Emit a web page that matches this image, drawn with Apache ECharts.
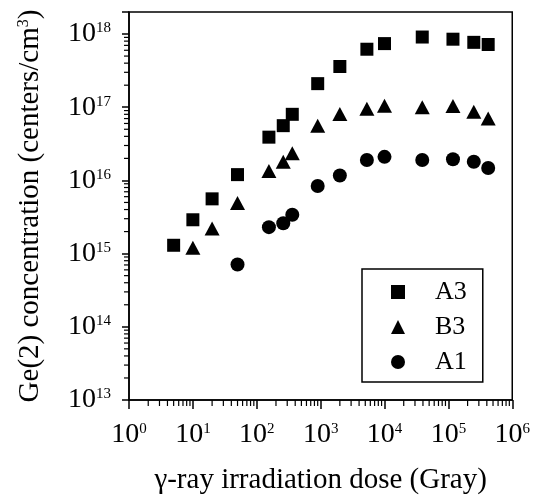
<!DOCTYPE html>
<html>
<head>
<meta charset="utf-8">
<script src="https://cdn.jsdelivr.net/npm/echarts@6/dist/echarts.min.js"></script>
<style>
  html, body { margin: 0; padding: 0; background: #fff; }
  #chart { width: 533px; height: 500px; }
</style>
</head>
<body>
<div id="chart"></div>
<script>
// gamma dose (Gray) for each sample
const doseA3 = [5, 10, 20, 50, 155, 260, 360, 900, 2000, 5300, 10000, 39000, 118000, 250000, 420000];
const valA3 = [1.3e15, 2.9e15, 5.6e15, 1.2e16, 3.9e16, 5.6e16, 8.0e16, 2.1e17, 3.6e17, 6.2e17, 7.4e17, 9.1e17, 8.5e17, 7.7e17, 7.2e17];

const doseB3 = [10, 20, 50, 155, 260, 360, 900, 2000, 5300, 10000, 39000, 118000, 250000, 420000];
const valB3 = [1.2e15, 2.2e15, 4.9e15, 1.35e16, 1.8e16, 2.35e16, 5.6e16, 8.1e16, 9.5e16, 1.05e17, 1.0e17, 1.04e17, 8.7e16, 7.0e16];

const doseA1 = [50, 155, 260, 360, 900, 2000, 5300, 10000, 39000, 118000, 250000, 420000];
const valA1 = [7.1e14, 2.3e15, 2.6e15, 3.4e15, 8.4e15, 1.17e16, 1.9e16, 2.1e16, 1.9e16, 1.95e16, 1.8e16, 1.48e16];

const seriesNames = ['A3', 'B3', 'A1'];
const xMin = 1, xMax = 1e6;
const yMin = 1e13, yMax = 2e18;

const font = "'Liberation Serif', 'Times New Roman', serif";

const zip = (xs, ys) => xs.map((x, i) => [x, ys[i]]);

// minor tick positions 2..9 x 10^k
const minorX = [];
for (let k = 0; k < 6; k++) for (let m = 2; m < 10; m++) minorX.push([m * Math.pow(10, k), yMin]);
const minorY = [];
for (let k = 13; k < 18; k++) for (let m = 2; m < 10; m++) minorY.push([xMin, m * Math.pow(10, k)]);

const powLabel = (v) => {
    const e = Math.log10(v);
    if (Math.abs(e - Math.round(e)) > 1e-6) return '';
    return '{b|10}{s|' + Math.round(e) + '}';
};
const powRich = {
    b: {fontFamily: font, fontSize: 28, color: '#000', lineHeight: 30},
    s: {fontFamily: font, fontSize: 15, color: '#000', verticalAlign: 'top', padding: [2, 0, 0, 0]}
};

const chart = echarts.init(document.getElementById('chart'), null, {renderer: 'canvas'});

const option = {
    animation: false,
    backgroundColor: '#fff',
    grid: {
        left: 129, right: 16, top: 12, bottom: 100,
        show: true, borderColor: '#000', borderWidth: 1.5, backgroundColor: 'transparent'
    },
    legend: {
        data: seriesNames,
        orient: 'vertical',
        left: 362, top: 269,
        borderColor: '#000', borderWidth: 1.5,
        padding: [10, 16, 7, 29],
        itemGap: 9,
        itemWidth: 14, itemHeight: 14,
        itemStyle: {opacity: 1},
        textStyle: {fontFamily: font, fontSize: 26, color: '#000', padding: [0, 0, 0, 25]}
    },
    xAxis: {
        type: 'log',
        logBase: 10,
        min: xMin, max: xMax,
        name: 'γ-ray irradiation dose (Gray)',
        nameLocation: 'middle',
        nameGap: 66,
        nameTextStyle: {fontFamily: font, fontSize: 29, color: '#000'},
        axisLine: {lineStyle: {color: '#000', width: 1.5}},
        axisTick: {inside: false, length: 9, lineStyle: {color: '#000', width: 1.5}},
        axisLabel: {margin: 20, formatter: powLabel, rich: powRich},
        splitLine: {show: false}
    },
    yAxis: {
        type: 'log',
        logBase: 10,
        min: yMin, max: yMax,
        name: 'Ge(2) concentration (centers/cm{sup|3})',
        nameLocation: 'middle',
        nameGap: 84,
        nameRotate: 90,
        nameTextStyle: {
            fontFamily: font, fontSize: 29, color: '#000',
            rich: {sup: {fontFamily: font, fontSize: 16, color: '#000', verticalAlign: 'top'}}
        },
        axisLine: {lineStyle: {color: '#000', width: 1.5}},
        axisTick: {inside: false, length: 7, lineStyle: {color: '#000', width: 1.5}},
        axisLabel: {margin: 18, formatter: powLabel, rich: powRich},
        splitLine: {show: false}
    },
    series: [
        {
            name: 'A3', type: 'scatter', symbol: 'rect', symbolSize: 13,
            itemStyle: {color: '#000', opacity: 1}, data: zip(doseA3, valA3)
        },
        {
            name: 'B3', type: 'scatter', symbol: 'triangle', symbolSize: [15, 14],
            itemStyle: {color: '#000', opacity: 1}, data: zip(doseB3, valB3)
        },
        {
            name: 'A1', type: 'scatter', symbol: 'circle', symbolSize: 14,
            itemStyle: {color: '#000', opacity: 1}, data: zip(doseA1, valA1)
        },
        {
            // log minor ticks on x axis
            type: 'custom', silent: true, clip: false,
            data: minorX,
            renderItem: (params, api) => {
                const p = api.coord([api.value(0), api.value(1)]);
                return {type: 'line', shape: {x1: p[0], y1: p[1], x2: p[0], y2: p[1] + 6},
                        style: {stroke: '#000', lineWidth: 1.2}};
            }
        },
        {
            // log minor ticks on y axis
            type: 'custom', silent: true, clip: false,
            data: minorY,
            renderItem: (params, api) => {
                const p = api.coord([api.value(0), api.value(1)]);
                return {type: 'line', shape: {x1: p[0], y1: p[1], x2: p[0] - 5, y2: p[1]},
                        style: {stroke: '#000', lineWidth: 1.2}};
            }
        }
    ]
};

chart.setOption(option);
</script>
</body>
</html>
